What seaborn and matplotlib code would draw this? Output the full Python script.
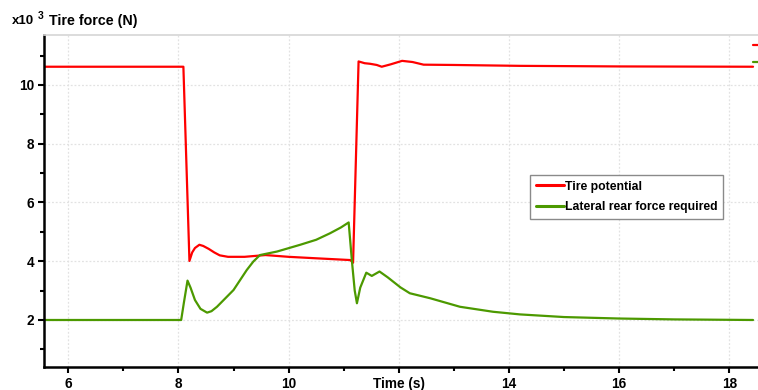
import matplotlib
matplotlib.use("Agg")
import matplotlib.pyplot as plt
import numpy as np
import pandas as pd
import seaborn as sns

# Tire potential (x10^3 N) vs time (s)
t_potential = [5.56, 8.09, 8.2, 8.25, 8.3, 8.38, 8.45, 8.55, 8.65, 8.75, 8.9, 9.2, 9.58,
               10.0, 10.5, 11.12, 11.17, 11.27, 11.38, 11.48, 11.6, 11.69, 11.85, 12.06,
               12.25, 12.45, 13.0, 14.2, 16.0, 18.43]
potential = [10.62, 10.62, 4.01, 4.3, 4.45, 4.56, 4.52, 4.42, 4.3, 4.2, 4.15, 4.15, 4.21,
             4.15, 4.1, 4.04, 3.95, 10.8, 10.74, 10.72, 10.68, 10.62, 10.7, 10.82,
             10.78, 10.69, 10.68, 10.65, 10.63, 10.62]

# Lateral rear force required (x10^3 N)
t_required = [5.56, 8.05, 8.1, 8.165, 8.22, 8.3, 8.4, 8.52, 8.6, 8.7, 9.0, 9.24, 9.36,
              9.48, 9.79, 10.21, 10.5, 10.75, 10.95, 11.09, 11.15, 11.2, 11.24, 11.3,
              11.41, 11.51, 11.65, 11.8, 12.03, 12.2, 12.57, 13.11, 13.71, 14.2, 15.0,
              16.0, 17.0, 18.43]
required = [2.0, 2.0, 2.6, 3.34, 3.1, 2.68, 2.38, 2.25, 2.3, 2.45, 3.02, 3.7, 3.99,
            4.21, 4.33, 4.56, 4.73, 4.95, 5.15, 5.32, 3.99, 3.0, 2.57, 3.1,
            3.61, 3.5, 3.65, 3.45, 3.11, 2.91, 2.74, 2.45, 2.28, 2.19, 2.1,
            2.05, 2.02, 2.0]

x_ticks = [6, 8, 10, 12, 14, 16, 18]
x_tick_labels = ["6", "8", "10", "Time (s)", "14", "16", "18"]
y_ticks = [2, 4, 6, 8, 10]

series_names = ["Tire potential", "Lateral rear force required"]
colors = {"Tire potential": "#ff0000", "Lateral rear force required": "#4c9900"}

df = pd.concat([
    pd.DataFrame({"time": t_potential, "force": potential, "series": series_names[0]}),
    pd.DataFrame({"time": t_required, "force": required, "series": series_names[1]}),
])

sns.set_style("white")
plt.rcParams["font.family"] = ["Liberation Sans", "DejaVu Sans"]
plt.rcParams["text.color"] = "black"

fig = plt.figure(figsize=(7.58, 3.9), dpi=100)
ax = fig.add_axes([44 / 758, 23 / 390, 714 / 758, 332 / 390])

sns.lineplot(data=df, x="time", y="force", hue="series", palette=colors,
             linewidth=1.6, sort=False, estimator=None, ax=ax)

ax.set_xlim(5.56, 18.52)
ax.set_ylim(0.4, 11.7)
ax.set_xticks(x_ticks)
ax.set_xticklabels(x_tick_labels, fontweight="bold", fontsize=9.8)
ax.set_yticks(y_ticks)
ax.set_yticklabels([str(v) for v in y_ticks], fontweight="bold", fontsize=9.8)
ax.set_xticks(np.arange(7, 19, 2), minor=True)
ax.set_yticks([1, 3, 5, 7, 9, 11], minor=True)
ax.tick_params(which="major", direction="out", length=4, width=1.5, color="black",
               labelcolor="black", left=True, bottom=True, pad=3)
ax.tick_params(which="minor", direction="out", length=3, width=1.5, color="black",
               left=True, bottom=True)
ax.set_xlabel("")
ax.set_ylabel("")

ax.grid(True, which="major", color="#e2e2e2", linestyle=(0, (1.5, 1.5)), linewidth=0.9)
ax.set_axisbelow(True)

for side in ["left", "bottom"]:
    ax.spines[side].set_color("black")
    ax.spines[side].set_linewidth(1.8)
ax.spines["top"].set_color("#d6d6d6")
ax.spines["top"].set_linewidth(1.2)
ax.spines["right"].set_visible(False)

# small end markers at the right edge
ax.plot([0.993, 1.0], [0.970, 0.970], color=colors[series_names[0]], lw=1.6,
        transform=ax.transAxes, clip_on=False)
ax.plot([0.993, 1.0], [0.920, 0.920], color=colors[series_names[1]], lw=1.6,
        transform=ax.transAxes, clip_on=False)

leg = ax.legend(loc="upper right", bbox_to_anchor=(0.951, 0.578), frameon=True,
                fancybox=False, framealpha=1, edgecolor="#8a8a8a",
                prop={"weight": "bold", "size": 8.8}, handlelength=2.3,
                handletextpad=0.1, borderpad=0.45, labelspacing=0.7,
                borderaxespad=0)
leg.get_frame().set_linewidth(1.0)
for line in leg.get_lines():
    line.set_linewidth(2.2)

fig.text(12 / 758, 1 - 21 / 390, "x10", fontsize=9.5, fontweight="bold", va="center")
fig.text(38 / 758, 1 - 16 / 390, "3", fontsize=7.5, fontweight="bold", va="center")
fig.text(49 / 758, 1 - 21 / 390, "Tire force (N)", fontsize=10.3, fontweight="bold",
         va="center")

fig.savefig("out.png", dpi=100)
